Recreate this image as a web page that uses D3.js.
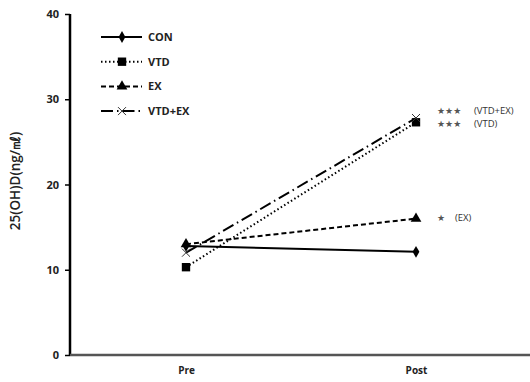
<!DOCTYPE html>
<html>
<head>
<meta charset="utf-8">
<script src="https://cdn.jsdelivr.net/npm/d3@7"></script>
<style>
  body { margin: 0; background: #fff; }
  svg text { font-family: "Open Sans", "DejaVu Sans", sans-serif; }
</style>
</head>
<body>
<div id="chart"></div>
<script>
// data
const timepoints = ["Pre", "Post"];
const groups = ["CON", "VTD", "EX", "VTD+EX"];
const conValues = [12.8, 12.1];
const vtdValues = [10.3, 27.3];
const exValues = [13.0, 16.0];
const vtdexValues = [12.0, 27.8];
const yTicks = [0, 10, 20, 30, 40];
const annotations = [
    {stars: "★★★", label: "(VTD+EX)", value: 28.7},
    {stars: "★★★", label: "(VTD)", value: 27.2},
    {stars: "★", label: "(EX)", value: 16.1}
];

const series = [
    {name: "CON", values: conValues, dash: null, symbol: d3.symbolDiamond, size: 40},
    {name: "VTD", values: vtdValues, dash: "1.5,2.5", symbol: d3.symbolSquare, size: 70},
    {name: "EX", values: exValues, dash: "5,3", symbol: d3.symbolTriangle, size: 50},
    {name: "VTD+EX", values: vtdexValues, dash: "12,4,1.5,4", symbol: null, size: 0}
];

const margin = {top: 14, right: 0, bottom: 27, left: 70};
const width = 530, height = 382;
const innerW = width - margin.left - margin.right;
const innerH = height - margin.top - margin.bottom;

const svg = d3.select("#chart").append("svg")
    .attr("width", width)
    .attr("height", height);

const g = svg.append("g")
    .attr("transform", "translate(" + margin.left + "," + margin.top + ")");

const xScale = d3.scalePoint().domain(timepoints).range([116, 346]);
const yScale = d3.scaleLinear().domain([0, 40]).range([innerH, 0]);

// y axis
const leftAxis = d3.axisLeft(yScale).tickValues(yTicks).tickSize(5).tickPadding(6);
const yAxisG = g.append("g").attr("class", "yAxisG").call(leftAxis);
yAxisG.select(".domain").attr("stroke", "#000").attr("stroke-width", 2.5)
    .attr("d", "M0," + (innerH + 1) + "V0");
yAxisG.selectAll(".tick line").attr("stroke", "#000").attr("stroke-width", 1.5);
yAxisG.selectAll(".tick text")
    .attr("font-size", 11).attr("font-weight", "bold").attr("fill", "#222");

// x axis
const bottomAxis = d3.axisBottom(xScale).tickSize(0).tickPadding(12);
const xAxisG = g.append("g").attr("class", "xAxisG")
    .attr("transform", "translate(0," + innerH + ")")
    .call(bottomAxis);
xAxisG.select(".domain").attr("stroke", "#555").attr("stroke-width", 2.5)
    .attr("d", "M0,0H" + innerW);
xAxisG.selectAll(".tick text")
    .attr("font-size", 10).attr("font-weight", "bold").attr("fill", "#222");

// y label
svg.append("text")
    .attr("transform", "translate(20,181) rotate(-90)")
    .attr("text-anchor", "middle")
    .attr("font-size", 13.5)
    .attr("font-weight", 600)
    .attr("fill", "#222")
    .text("25(OH)D(ng/㎖)");

// lines
const line = d3.line()
    .x((d, i) => xScale(timepoints[i]))
    .y(d => yScale(d));

function drawMarker(sel, s, x, y) {
    if (s.symbol) {
        sel.append("path")
            .attr("d", d3.symbol().type(s.symbol).size(s.size)())
            .attr("transform", "translate(" + x + "," + y + ")")
            .attr("fill", "#000");
    } else {
        const r = 4;
        sel.append("path")
            .attr("d", "M" + (x - r) + "," + (y - r) + "L" + (x + r) + "," + (y + r) +
                "M" + (x - r) + "," + (y + r) + "L" + (x + r) + "," + (y - r))
            .attr("stroke", "#333").attr("stroke-width", 1).attr("fill", "none");
    }
}

series.forEach(s => {
    g.append("path")
        .datum(s.values)
        .attr("d", line)
        .attr("fill", "none")
        .attr("stroke", "#000")
        .attr("stroke-width", 2)
        .attr("stroke-dasharray", s.dash);
});
series.forEach(s => {
    s.values.forEach((v, i) => drawMarker(g, s, xScale(timepoints[i]), yScale(v)));
});

// legend
const legend = svg.append("g").attr("transform", "translate(101,37)");
series.forEach((s, i) => {
    const row = legend.append("g").attr("transform", "translate(0," + (i * 24.7) + ")");
    row.append("line")
        .attr("x1", 0).attr("x2", 41).attr("y1", 0).attr("y2", 0)
        .attr("stroke", "#000").attr("stroke-width", 2)
        .attr("stroke-dasharray", s.dash);
    drawMarker(row, s, 21, 0);
    row.append("text")
        .attr("x", 47).attr("y", 4)
        .attr("font-size", 11).attr("font-weight", "bold").attr("fill", "#222")
        .text(s.name);
});

// significance notes
annotations.forEach(a => {
    const y = yScale(a.value) + margin.top;
    svg.append("text")
        .attr("x", 437).attr("y", y + 3.5)
        .attr("font-size", 9).attr("fill", "#555")
        .text(a.stars);
    svg.append("text")
        .attr("x", a.stars.length > 1 ? 474 : 455).attr("y", y + 3.5)
        .attr("font-size", 9.5).attr("fill", "#333")
        .text(a.label);
});
</script>
</body>
</html>
